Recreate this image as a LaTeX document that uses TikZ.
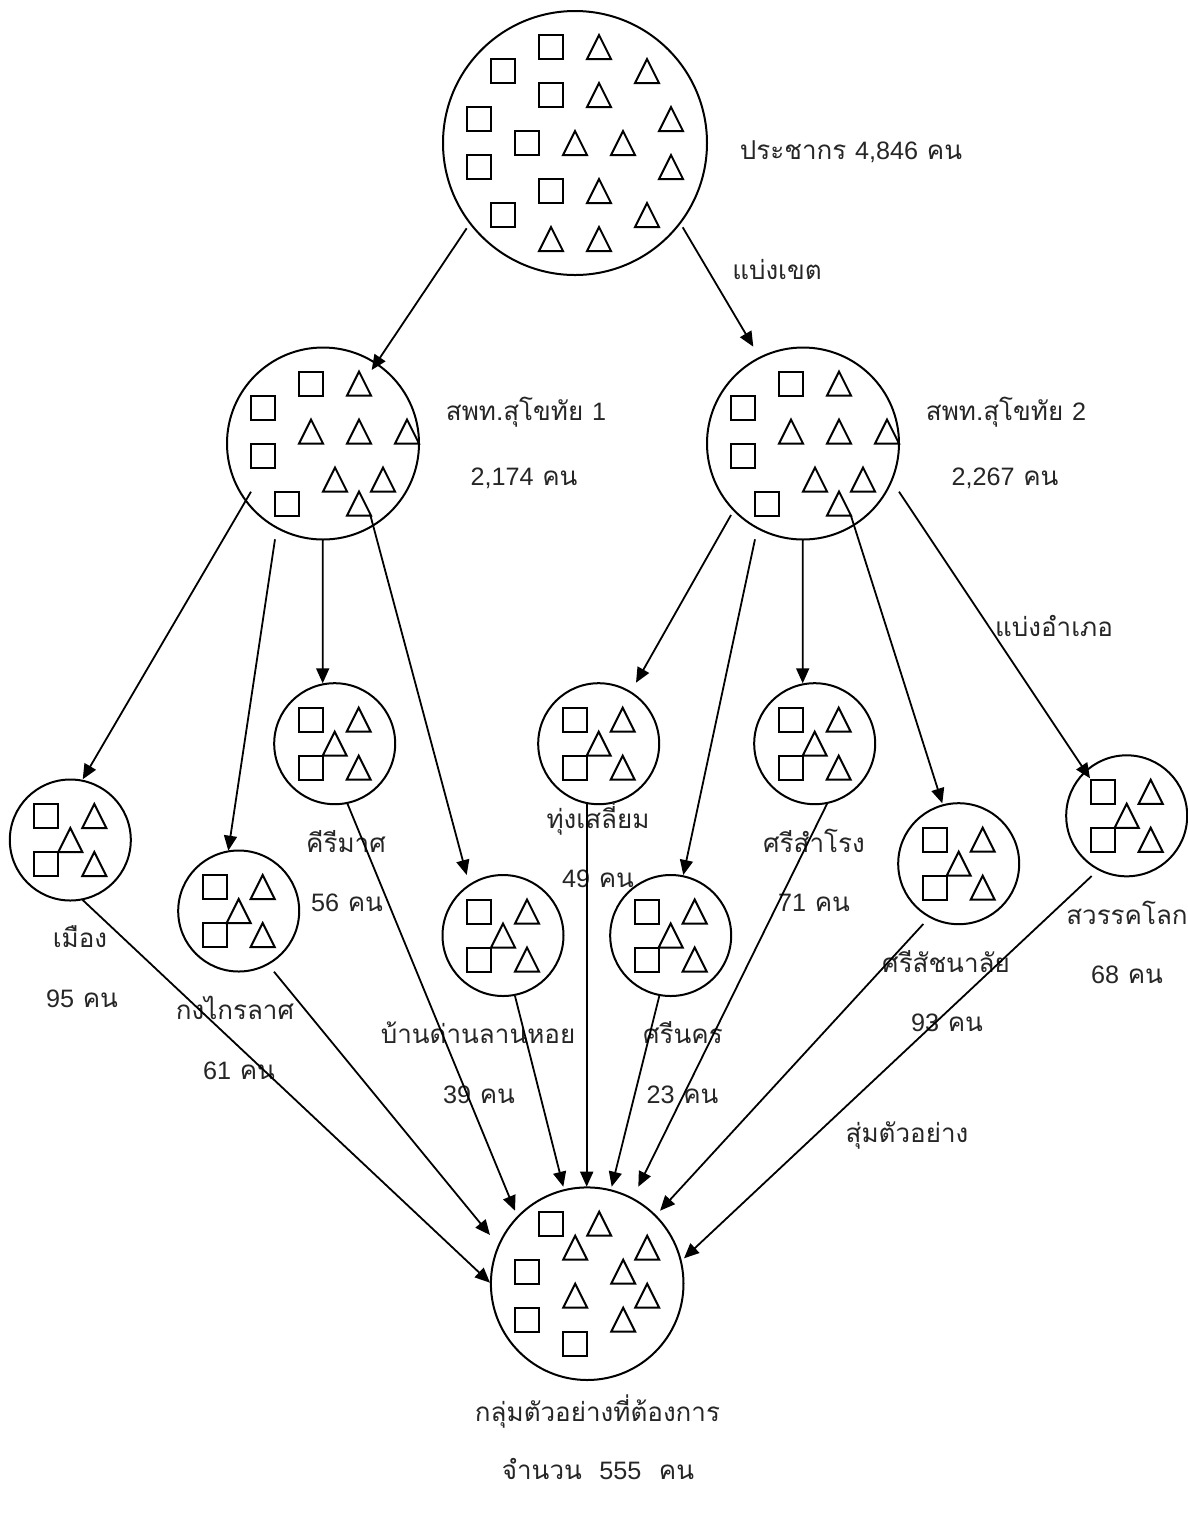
\documentclass[tikz,border=0pt]{standalone}
\usepackage{fontspec}
\newfontfamily\thaifont[Script=Thai]{Loma}
\newfontfamily\numfont{Liberation Sans}
\newcommand\numtxt[1]{{\numfont\fontsize{12.6pt}{15pt}\selectfont #1}}
\usetikzlibrary{arrows.meta,calc}
\begin{document}
\begin{tikzpicture}[x=0.5pt,y=-0.5pt,
  circ/.style={draw,circle,line width=1pt,inner sep=0pt,outer sep=0pt},
  bigc/.style={circ,minimum size=132pt},
  midc/.style={circ,minimum size=96pt},
  smc/.style={circ,minimum size=60.5pt},
  shp/.style={line width=1pt,line join=miter},
  arr/.style={line width=0.9pt,-{Triangle[length=7.5pt,width=6.5pt]}},
  lbl/.style={font=\thaifont\fontsize{13pt}{15pt}\selectfont,inner sep=0pt,anchor=base,text=black!85},
  sqr/.pic={\draw[shp] (-12,-12) rectangle (12,12);},
  trg/.pic={\draw[shp] (-12,12) -- (12,12) -- (0,-12) -- cycle;},
  fivefig/.pic={\pic at (-24,-24) {sqr}; \pic at (-24,24) {sqr};
     \pic at (24,-24) {trg}; \pic at (0,0) {trg}; \pic at (24,24) {trg};},
  midfig/.pic={\pic at (-12,-60) {sqr}; \pic at (-60,-36) {sqr}; \pic at (-60,12) {sqr}; \pic at (-36,60) {sqr};
     \pic at (36,-60) {trg}; \pic at (-12,-12) {trg}; \pic at (36,-12) {trg}; \pic at (84,-12) {trg};
     \pic at (12,36) {trg}; \pic at (60,36) {trg}; \pic at (36,60) {trg};},
  topfig/.pic={\pic at (-24,-96) {sqr}; \pic at (-72,-72) {sqr}; \pic at (-24,-48) {sqr}; \pic at (-96,-24) {sqr};
     \pic at (-48,0) {sqr}; \pic at (-96,24) {sqr}; \pic at (-24,48) {sqr}; \pic at (-72,72) {sqr};
     \pic at (24,-96) {trg}; \pic at (72,-72) {trg}; \pic at (24,-48) {trg}; \pic at (96,-24) {trg};
     \pic at (0,0) {trg}; \pic at (48,0) {trg}; \pic at (96,24) {trg}; \pic at (24,48) {trg};
     \pic at (72,72) {trg}; \pic at (-24,96) {trg}; \pic at (24,96) {trg};},
  botfig/.pic={\pic at (-36,-60) {sqr}; \pic at (-60,-12) {sqr}; \pic at (-60,36) {sqr}; \pic at (-12,60) {sqr};
     \pic at (12,-60) {trg}; \pic at (-12,-36) {trg}; \pic at (60,-36) {trg}; \pic at (36,-12) {trg};
     \pic at (-12,12) {trg}; \pic at (60,12) {trg}; \pic at (36,36) {trg};}
]
\useasboundingbox (0,0) rectangle (1188,1517);

% circles
\node[bigc] (T) at (575,143) {};
\node[midc] (L) at (323,443.5) {};
\node[midc] (R) at (803,443.5) {};
\node[smc] (M1) at (70.3,840) {};
\node[smc] (M2) at (238.7,911) {};
\node[smc] (M3) at (334.7,743.7) {};
\node[smc] (M4) at (503,935.5) {};
\node[smc] (M5) at (598.7,743.7) {};
\node[smc] (M6) at (670.7,935.5) {};
\node[smc] (M7) at (814.7,743.7) {};
\node[smc] (M8) at (958.7,863.7) {};
\node[smc] (M9) at (1126.7,815.8) {};
\node[circ,minimum size=96.3pt] (B) at (587.2,1283.7) {};

% contents
\pic at (T) {topfig};
\pic at (L) {midfig};
\pic at (R) {midfig};
\foreach \n in {M1,M2,M3,M4,M5,M6,M7,M8,M9} { \pic at (\n) {fivefig}; }
\pic at (B) {botfig};

% labels
\node[lbl] (tPop) at (851,159) {ประชากร \numtxt{4,846} คน};
\node[lbl] (tDiv) at (777,279) {แบ่งเขต};
\node[lbl] (tL1) at (526,420) {สพท.สุโขทัย \numtxt{1}};
\node[lbl] (tL2) at (524,485) {\numtxt{2,174} คน};
\node[lbl] (tR1) at (1006,420) {สพท.สุโขทัย \numtxt{2}};
\node[lbl] (tR2) at (1005,485) {\numtxt{2,267} คน};
\node[lbl] (a1) at (80,947) {เมือง};
\node[lbl] (b1) at (82,1007) {\numtxt{95} คน};
\node[lbl] (a2) at (235,1019) {กงไกรลาศ};
\node[lbl] (b2) at (239,1079) {\numtxt{61} คน};
\node[lbl] (a3) at (346,852) {คีรีมาศ};
\node[lbl] (b3) at (347,911) {\numtxt{56} คน};
\node[lbl] (a4) at (478,1043) {บ้านด่านลานหอย};
\node[lbl] (b4) at (479,1103) {\numtxt{39} คน};
\node[lbl] (a5) at (598,828) {ทุ่งเสลี่ยม};
\node[lbl] (b5) at (598,887) {\numtxt{49} คน};
\node[lbl] (a6) at (683,1043) {ศรีนคร};
\node[lbl] (b6) at (682.5,1103) {\numtxt{23} คน};
\node[lbl] (a7) at (814,852) {ศรีสำโรง};
\node[lbl] (b7) at (814,911) {\numtxt{71} คน};
\node[lbl] (a8) at (946,972) {ศรีสัชนาลัย};
\node[lbl] (b8) at (947,1031) {\numtxt{93} คน};
\node[lbl] (a9) at (1127,924) {สวรรคโลก};
\node[lbl] (b9) at (1127,983) {\numtxt{68} คน};
\node[lbl] (tAmp) at (1054,636) {แบ่งอำเภอ};
\node[lbl] (tSam) at (907,1142) {สุ่มตัวอย่าง};
\node[lbl] (tS1) at (597.5,1421) {กลุ่มตัวอย่างที่ต้องการ};
\node[lbl] (tS2) at (598,1479) {จำนวน\ \ \numtxt{555}\ \ คน};

% connectors
\draw[arr] ($(T)+(-108.3,85.3)$) -- ($(L)+(48.7,-73.5)$);
\draw[arr] ($(T)+(107.7,84.3)$) -- ($(R)+(-49.7,-96.8)$);
\draw[arr] ($(L)+(-72,48.2)$) -- ($(M1)+(12.4,-60.7)$);
\draw[arr] ($(L)+(-48,95.8)$) -- ($(M2)+(-10.4,-60.3)$);
\draw[arr] ($(L)+(-0.3,96.5)$) -- ($(M3)+(-12,-60.4)$);
\draw[arr] ($(L)+(47.3,71.5)$) -- ($(M4)+(-36.3,-60.5)$);
\draw[arr] ($(R)+(-72,71.5)$) -- ($(M5)+(37.3,-61)$);
\draw[arr] ($(R)+(-48,95.8)$) -- ($(M6)+(12.6,-60.5)$);
\draw[arr] ($(R)+(-0.3,96.5)$) -- ($(M7)+(-12,-60.4)$);
\draw[arr] ($(R)+(47.7,71.5)$) -- ($(M8)+(-16.4,-60.4)$);
\draw[arr] ($(R)+(96,48.2)$) -- ($(M9)+(-36.7,-37.5)$);
\draw[arr] ($(M1)+(12.4,60)$) -- ($(B)+(-97.2,-1)$);
\draw[arr] ($(M2)+(35.3,60.7)$) -- ($(B)+(-97.2,-48.7)$);
\draw[arr] ($(M3)+(12.6,59.6)$) -- ($(B)+(-72.2,-73)$);
\draw[arr] ($(M4)+(12,60.5)$) -- ($(B)+(-23.9,-97)$);
\draw[arr] ($(M5)+(-12,59.6)$) -- ($(B)+(-0.5,-97)$);
\draw[arr] ($(M6)+(-11.4,60.5)$) -- ($(B)+(24.5,-97)$);
\draw[arr] ($(M7)+(12.6,59.6)$) -- ($(B)+(51.1,-97)$);
\draw[arr] ($(M8)+(-35.4,60.3)$) -- ($(B)+(72.8,-73)$);
\draw[arr] ($(M9)+(-35,60.2)$) -- ($(B)+(96.8,-25.4)$);
\end{tikzpicture}
\end{document}
